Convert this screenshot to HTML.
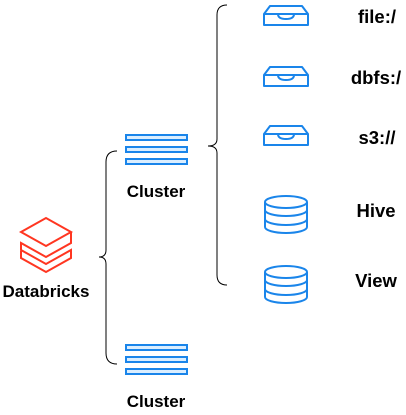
<!DOCTYPE html>
<html><head><style>body{margin:0;background:#fff}svg{display:block}text{font-family:"Liberation Sans",Arial,sans-serif;font-weight:bold;font-size:17px;fill:#000}.r{font-size:18.5px}</style></head><body>
<svg width="406" height="415" viewBox="0 0 406 415" xmlns="http://www.w3.org/2000/svg">
<g fill="none" stroke="#000" stroke-width="1">
<path d="M117,151 Q106,151 106,162 L106,250 Q106,257 99,257 Q106,257 106,264 L106,353 Q106,364 117,364"/>
<path d="M227,5 Q217,5 217,15 L217,139 Q217,146 208,146 Q217,146 217,153 L217,275 Q217,285 227,285"/>
</g>
<g fill="#dbeeff" stroke="#1a85ea" stroke-width="2">
<rect x="126" y="135" width="61" height="5"/><rect x="126" y="147" width="61" height="5"/><rect x="126" y="159" width="61" height="5"/>
<rect x="126" y="345" width="61" height="5"/><rect x="126" y="357" width="61" height="5"/><rect x="126" y="369" width="61" height="5"/>
</g>
<g fill="none" stroke="#ff3621" stroke-width="2" stroke-linejoin="miter">
<path d="M21,232 L46,218 L71,232 L46,246 Z"/>
<path d="M71,232 L71,243 L46,257 L21,243 L21,250 L46,264 L71,250 L71,258 L46,272 L21,258 L21,251"/>
</g>
<g fill="none" stroke="#1a85ea" stroke-width="2" stroke-linejoin="round">
<g id="tray"><path d="M264,14 L270,6 L302,6 L308,14 Z M264,14 L264,25 L308,25 L308,14 M278,14 Q278,19 286,19 Q294,19 294,14"/></g>
<use href="#tray" y="61"/><use href="#tray" y="120"/>
<g id="db"><ellipse cx="286" cy="202" rx="21" ry="6"/><path d="M265,202 L265,227 A21,6 0 0 0 307,227 L307,202 M265,210 A21,6 0 0 0 307,210 M265,219 A21,6 0 0 0 307,219"/></g>
<use href="#db" y="70"/>
</g>
<text x="156" y="197" text-anchor="middle">Cluster</text>
<text x="156" y="407" text-anchor="middle">Cluster</text>
<text x="46" y="297" text-anchor="middle">Databricks</text>
<text class="r" x="377" y="23" text-anchor="middle">file:/</text>
<text class="r" x="376" y="84" text-anchor="middle">dbfs:/</text>
<text class="r" x="377" y="144" text-anchor="middle">s3://</text>
<text class="r" x="376" y="217" text-anchor="middle">Hive</text>
<text class="r" x="376" y="287" text-anchor="middle">View</text>
</svg>
</body></html>
